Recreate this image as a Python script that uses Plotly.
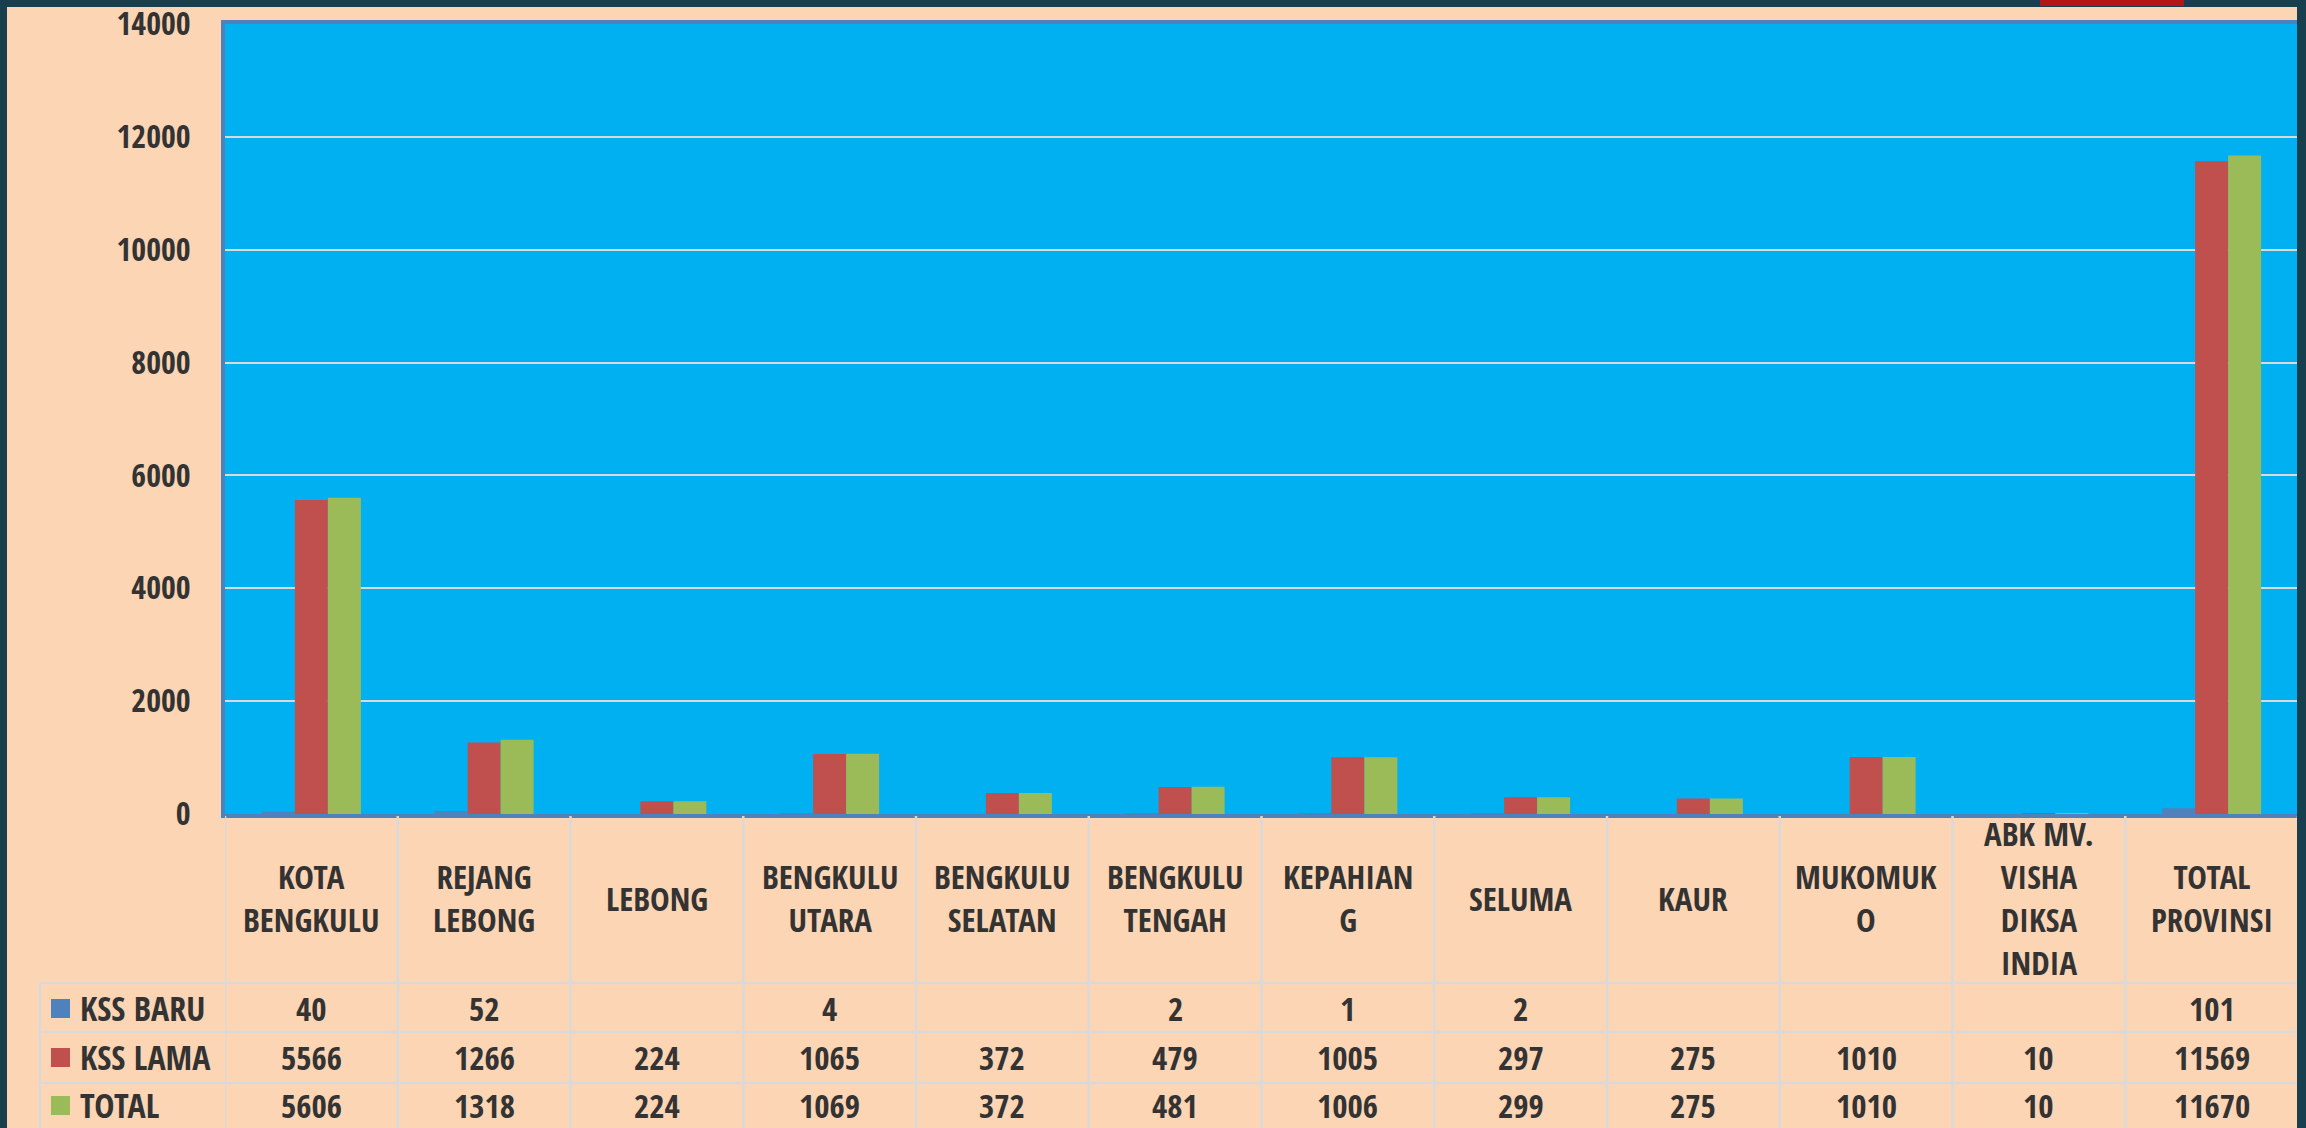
import plotly.graph_objects as go

W, H = 2306, 1128

categories = ["KOTA<br>BENGKULU", "REJANG<br>LEBONG", "LEBONG", "BENGKULU<br>UTARA",
              "BENGKULU<br>SELATAN", "BENGKULU<br>TENGAH", "KEPAHIAN<br>G", "SELUMA",
              "KAUR", "MUKOMUK<br>O", "ABK MV.<br>VISHA<br>DIKSA<br>INDIA", "TOTAL<br>PROVINSI"]
series_names = ["KSS BARU", "KSS LAMA", "TOTAL"]
kss_baru = [40, 52, None, 4, None, 2, 1, 2, None, None, None, 101]
kss_lama = [5566, 1266, 224, 1065, 372, 479, 1005, 297, 275, 1010, 10, 11569]
total = [5606, 1318, 224, 1069, 372, 481, 1006, 299, 275, 1010, 10, 11670]
y_ticks = [0, 2000, 4000, 6000, 8000, 10000, 12000, 14000]
series_colors = ["#4f81bd", "#c0504d", "#9bbb59"]

FONT = ("'Liberation Sans Narrow', 'Open Sans Condensed', 'Roboto Condensed', "
        "'DejaVu Sans Condensed', sans-serif")
TXT = "#333333"
PEACH = "#fcd5b4"
DARK = "#173f4e"
GRID = "#d9d9d9"


def px(x):
    return x / W


def py(y):
    return 1 - y / H


fig = go.Figure()
for name, vals, col in zip(series_names, [kss_baru, kss_lama, total], series_colors):
    fig.add_trace(go.Bar(x=categories, y=vals, name=name, marker=dict(color=col, line=dict(width=0)),
                         showlegend=False))

shapes = []
annotations = []

# table grid lines
n = len(categories)
for k in range(n + 1):
    shapes.append(dict(type="line", xref="x", yref="paper", x0=k - 0.5, x1=k - 0.5,
                       y0=py(816), y1=py(1135), line=dict(color=GRID, width=2.5)))
for yy in [983, 1032, 1083]:
    shapes.append(dict(type="line", xref="paper", yref="paper", x0=px(40), x1=px(2298),
                       y0=py(yy), y1=py(yy), line=dict(color=GRID, width=2.5)))
shapes.append(dict(type="line", xref="paper", yref="paper", x0=px(40), x1=px(40),
                   y0=py(983), y1=py(1135), line=dict(color=GRID, width=2.5)))

# header row
for c in categories:
    annotations.append(dict(x=c, xref="x", y=py(898), yref="paper", text=c, showarrow=False,
                            xanchor="center", yanchor="middle",
                            font=dict(family=FONT, size=33, color=TXT, weight="bold")))

# data rows
row_y = [1008, 1057, 1105]
for name, vals, col, ry in zip(series_names, [kss_baru, kss_lama, total], series_colors, row_y):
    for c, v in zip(categories, vals):
        annotations.append(dict(x=c, xref="x", y=py(ry), yref="paper",
                                text="" if v is None else str(v), showarrow=False,
                                xanchor="center", yanchor="middle",
                                font=dict(family=FONT, size=33, color=TXT, weight="bold")))
    annotations.append(dict(x=px(78), xref="paper", y=py(ry), yref="paper", text=name,
                            showarrow=False, xanchor="left", yanchor="middle",
                            font=dict(family=FONT, size=34, color=TXT, weight="bold")))
    shapes.append(dict(type="rect", xref="paper", yref="paper", x0=px(51), x1=px(70),
                       y0=py(ry - 9), y1=py(ry + 10), fillcolor=col, line=dict(width=0)))

# outer dark frame & red tab
shapes.append(dict(type="rect", xref="paper", yref="paper", x0=0, x1=px(7), y0=0, y1=1,
                   fillcolor=DARK, line=dict(width=0), layer="above"))
shapes.append(dict(type="rect", xref="paper", yref="paper", x0=0, x1=1, y0=py(7), y1=1,
                   fillcolor=DARK, line=dict(width=0), layer="above"))
shapes.append(dict(type="rect", xref="paper", yref="paper", x0=px(2297), x1=1, y0=0, y1=1,
                   fillcolor=DARK, line=dict(width=0), layer="above"))
shapes.append(dict(type="rect", xref="paper", yref="paper", x0=px(2040), x1=px(2184),
                   y0=py(6), y1=1, fillcolor="#b31616", line=dict(width=0), layer="above"))

fig.update_layout(
    width=W, height=H,
    autosize=False,
    margin=dict(l=0, r=0, t=0, b=0, pad=0, autoexpand=False),
    paper_bgcolor=PEACH,
    plot_bgcolor="#00b0f0",
    barmode="group",
    bargap=0.427,
    bargroupgap=0,
    showlegend=False,
    shapes=shapes,
    annotations=annotations,
    xaxis=dict(domain=[px(225), px(2298)], type="category", range=[-0.5, n - 0.5],
               automargin=False,
               showticklabels=False, showgrid=False, zeroline=False,
               showline=True, linecolor="#4f81bd", linewidth=4, mirror=True, ticks=""),
    yaxis=dict(domain=[py(814), py(24)], range=[0, 14000], tickvals=y_ticks,
               automargin=False,
               tickformat="d", showgrid=True, gridcolor=GRID, gridwidth=2,
               zeroline=False, showline=True, linecolor="#4f81bd", linewidth=4, mirror=True,
               ticks="", ticklabelstandoff=24,
               tickfont=dict(family=FONT, size=32, color=TXT, weight="bold")),
)

fig.write_html("out.html",
               config={"displayModeBar": False},
               post_script="document.body.style.margin='0px';document.body.style.overflow='hidden';")
